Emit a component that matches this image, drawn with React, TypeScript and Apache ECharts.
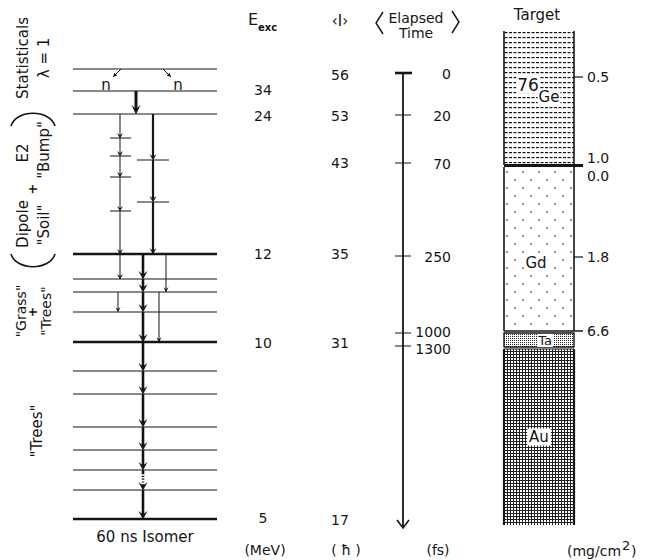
import React, { useEffect, useRef } from "react";
import * as echarts from "echarts";

// ---------------- data ----------------
// vertical position of each level on the diagram's scale (top = 0)
const levelPos = [69, 91, 114, 254, 279, 292, 312, 342, 371, 394, 427, 450, 470, 490, 519];
const thickLevelPos = [254, 342, 519];
// short sub-levels in the quasi-continuum
const dipoleSubLevels = [138, 156, 177, 211];
const e2SubLevels = [160, 202];
// gamma cascades: the levels each chain passes through
const bumpChain = [91, 114];
const dipoleChain = [114, 138, 156, 177, 211, 254, 279];
const e2Chain = [114, 160, 202, 254];
const yrastChain = [254, 279, 292, 312, 342, 371, 394, 427, 450, 470, 490, 519];
const grassChainA = [254, 292];
const grassChainB = [292, 312];
const grassChainC = [292, 342];
const neutronDir = [-1, 1];

const excLabels = ["34", "24", "12", "10", "5"];
const excPos = [90, 116, 254, 343, 518];
const spinLabels = ["56", "53", "43", "35", "31", "17"];
const spinPos = [75, 116, 163, 254, 343, 520];
const timeLabels = ["0", "20", "70", "250", "1000", "1300"];
const timePos = [73, 115, 163, 256, 333, 346];
const timeEnd = 528;

const layerNames = ["Ge", "Gd", "Ta", "Au"];
const layerTop = [31, 167, 333, 349];
const layerBottom = [165, 331, 347, 525];
const thicknessLabels = ["0.5", "1.0", "0.0", "1.8", "6.6"];
const thicknessPos = [77, 158, 176, 257, 331];
const thicknessTick = [true, false, false, true, false];

// ---------------- layout ----------------
const FONT = '"DejaVu Sans", "Liberation Sans", Arial, sans-serif';
const INK = "#151515";
const LEVEL_X0 = 73;
const LEVEL_X1 = 217;
const LANE_BUMP = 136;
const LANE_DIPOLE = 120;
const LANE_E2 = 153;
const LANE_YRAST = 143;
const LANE_GA = 166;
const LANE_GB = 118;
const LANE_GC = 159;
const DIPOLE_SUB_X = [110, 131];
const E2_SUB_X = [137, 169];
const EXC_X = 263;
const SPIN_X = 340;
const TIME_X = 403;
const TIME_LABEL_X = 451;
const TIME_LABEL_NUDGE = [1, 1, 1, 1, -1, 3];
const TGT_X0 = 504;
const TGT_X1 = 574;
const TGT_EXT = 583;
const TGT_LABEL_X = 587;
const COL1 = 23;
const COL2 = 44;
const COLM = 33;

const font = (size: number, weight = "normal") => `${weight} ${size}px ${FONT}`;

function svgTile(w: number, h: number, body: string) {
  return (
    "data:image/svg+xml;charset=utf-8," +
    encodeURIComponent(
      `<svg xmlns="http://www.w3.org/2000/svg" width="${w}" height="${h}" viewBox="0 0 ${w} ${h}">${body}</svg>`
    )
  );
}

const layerPatterns = [
  {
    image: svgTile(9, 5, `<rect x="0.5" y="2" width="3" height="1.2" fill="#111"/><rect x="5" y="2" width="3" height="1.2" fill="#111"/>`),
    repeat: "repeat",
    imageWidth: 9,
    imageHeight: 5,
  },
  {
    image: svgTile(16, 16, `<circle cx="3" cy="4" r="0.8" fill="#111"/><circle cx="11" cy="12" r="0.8" fill="#111"/>`),
    repeat: "repeat",
    imageWidth: 16,
    imageHeight: 16,
  },
  {
    image: svgTile(2, 2, `<rect x="0" y="0" width="1" height="1" fill="#222"/>`),
    repeat: "repeat",
    imageWidth: 2,
    imageHeight: 2,
  },
  {
    image: svgTile(3, 3, `<rect x="0" y="0" width="3" height="3" fill="#222"/><rect x="1" y="1" width="2" height="2" fill="#fff"/>`),
    repeat: "repeat",
    imageWidth: 3,
    imageHeight: 3,
  },
];

function seg(x1: number, y1: number, x2: number, y2: number, lw: number, dash?: number[]) {
  return {
    type: "line",
    shape: { x1, y1, x2, y2 },
    style: { stroke: INK, lineWidth: lw, lineDash: dash, fill: null },
  };
}

function txt(x: number, y: number, text: string, size: number, opts: any = {}) {
  const align = opts.align || "center";
  const va = opts.va || "middle";
  return {
    type: "text",
    x,
    y,
    rotation: opts.rot || 0,
    z: 20,
    style: {
      text,
      fill: INK,
      font: font(size, opts.weight || "normal"),
      align,
      verticalAlign: va,
      textAlign: align,
      textVerticalAlign: va,
      backgroundColor: opts.bg,
      padding: opts.pad,
    },
  };
}

function chainSeries(chain: number[], laneX: number, lw: number, hw: number, hh: number, dottedFrom?: number) {
  const data = chain.slice(1).map((to, i) => [laneX, chain[i], to]);
  return {
    type: "custom",
    coordinateSystem: "cartesian2d",
    encode: { x: 0, y: [1, 2] },
    data,
    renderItem: (_p: any, api: any) => {
      const x = api.value(0);
      const y0 = api.value(1);
      const y1 = api.value(2);
      const a = api.coord([x, y0]);
      const b = api.coord([x, y1]);
      const children: any[] = [];
      const lineEnd = b[1] - hh * 0.5;
      if (dottedFrom !== undefined && y0 === dottedFrom) {
        const d0 = api.coord([x, y0 + 3])[1];
        const d1 = api.coord([x, y1 - 5])[1];
        children.push(seg(a[0], a[1], a[0], d0, lw));
        children.push(seg(a[0], d0, a[0], d1, lw, [1.2, 1.6]));
        children.push(seg(a[0], d1, a[0], lineEnd, lw));
      } else {
        children.push(seg(a[0], a[1], a[0], lineEnd, lw));
      }
      children.push({
        type: "polygon",
        shape: {
          points: [
            [b[0], b[1] + 0.5],
            [b[0] - hw / 2, b[1] - hh],
            [b[0], b[1] - hh * 0.55],
            [b[0] + hw / 2, b[1] - hh],
          ],
        },
        style: { fill: INK },
      });
      return { type: "group", children };
    },
  };
}

function buildOption() {
  const series: any[] = [];

  // levels
  series.push({
    type: "custom",
    coordinateSystem: "cartesian2d",
    data: levelPos.map((y) => [LEVEL_X0, y]),
    renderItem: (_p: any, api: any) => {
      const y = api.value(1);
      const a = api.coord([LEVEL_X0, y]);
      const b = api.coord([LEVEL_X1, y]);
      const thick = thickLevelPos.indexOf(y) >= 0;
      return seg(a[0], a[1], b[0], b[1], thick ? 2.6 : 1.2);
    },
  });

  // sub-levels
  const subData = [
    ...dipoleSubLevels.map((y) => [DIPOLE_SUB_X[0], y, DIPOLE_SUB_X[1]]),
    ...e2SubLevels.map((y) => [E2_SUB_X[0], y, E2_SUB_X[1]]),
  ];
  series.push({
    type: "custom",
    coordinateSystem: "cartesian2d",
    encode: { x: [0, 2], y: 1 },
    data: subData,
    renderItem: (_p: any, api: any) => {
      const a = api.coord([api.value(0), api.value(1)]);
      const b = api.coord([api.value(2), api.value(1)]);
      return seg(a[0], a[1], b[0], b[1], 1);
    },
  });

  // cascades
  series.push(chainSeries(bumpChain, LANE_BUMP, 3, 9, 9));
  series.push(chainSeries(dipoleChain, LANE_DIPOLE, 1, 6, 5));
  series.push(chainSeries(e2Chain, LANE_E2, 2.2, 7, 6));
  series.push(chainSeries(yrastChain, LANE_YRAST, 2.6, 9, 8, 470));
  series.push(chainSeries(grassChainA, LANE_GA, 1, 5, 5));
  series.push(chainSeries(grassChainB, LANE_GB, 1, 5, 5));
  series.push(chainSeries(grassChainC, LANE_GC, 1, 5, 5));

  // neutron emission
  series.push({
    type: "custom",
    coordinateSystem: "cartesian2d",
    data: neutronDir.map((d) => [LANE_YRAST - 1 + d * 21, levelPos[0]]),
    renderItem: (p: any, api: any) => {
      const dir = neutronDir[p.dataIndex];
      const s = api.coord([api.value(0), api.value(1)]);
      const e = api.coord([api.value(0) + dir * 8, api.value(1) + 8]);
      const ux = dir * 0.707, uy = 0.707;
      const px = -uy, py = ux;
      const bx = e[0] - ux * 4, by = e[1] - uy * 4;
      const n = api.coord([LANE_YRAST - 1 + dir * 36, levelPos[0] + 16]);
      return {
        type: "group",
        children: [
          seg(s[0], s[1], e[0], e[1], 1),
          {
            type: "polygon",
            shape: { points: [[e[0], e[1]], [bx + px * 2, by + py * 2], [bx - px * 2, by - py * 2]] },
            style: { fill: INK },
          },
          txt(n[0], n[1], "n", 15),
        ],
      };
    },
  });

  // excitation energy labels
  series.push({
    type: "custom",
    coordinateSystem: "cartesian2d",
    data: excPos.map((y) => [EXC_X, y]),
    renderItem: (p: any, api: any) => {
      const c = api.coord([api.value(0), api.value(1)]);
      return txt(c[0], c[1], excLabels[p.dataIndex], 14);
    },
  });
  // spin labels
  series.push({
    type: "custom",
    coordinateSystem: "cartesian2d",
    data: spinPos.map((y) => [SPIN_X, y]),
    renderItem: (p: any, api: any) => {
      const c = api.coord([api.value(0), api.value(1)]);
      return txt(c[0], c[1], spinLabels[p.dataIndex], 14);
    },
  });

  // elapsed time axis spine
  series.push({
    type: "custom",
    coordinateSystem: "cartesian2d",
    encode: { x: 0, y: [1, 2] },
    data: [[TIME_X, timePos[0], timeEnd]],
    renderItem: (_p: any, api: any) => {
      const a = api.coord([api.value(0), api.value(1)]);
      const b = api.coord([api.value(0), api.value(2)]);
      return {
        type: "group",
        children: [
          seg(a[0], a[1], b[0], b[1] - 0.5, 1.8),
          {
            type: "polyline",
            shape: { points: [[b[0] - 6, b[1] - 8], [b[0], b[1]], [b[0] + 6, b[1] - 8]] },
            style: { stroke: INK, lineWidth: 1.6, fill: null },
          },
        ],
      };
    },
  });
  // elapsed time ticks + labels
  series.push({
    type: "custom",
    coordinateSystem: "cartesian2d",
    data: timePos.map((y) => [TIME_X, y]),
    renderItem: (p: any, api: any) => {
      const i = p.dataIndex;
      const c = api.coord([api.value(0), api.value(1)]);
      const l = api.coord([TIME_LABEL_X, api.value(1)]);
      return {
        type: "group",
        children: [
          i === 0 ? seg(c[0] - 8, c[1], c[0] + 9, c[1], 2.6) : seg(c[0] - 8, c[1], c[0] + 8, c[1], 1),
          txt(l[0], l[1] + TIME_LABEL_NUDGE[i], timeLabels[i], 14, { align: "right" }),
        ],
      };
    },
  });

  // target layers
  series.push({
    type: "custom",
    coordinateSystem: "cartesian2d",
    encode: { x: 0, y: [1, 2] },
    data: layerTop.map((t, i) => [TGT_X0, t, layerBottom[i]]),
    renderItem: (p: any, api: any) => {
      const i = p.dataIndex;
      const a = api.coord([TGT_X0, api.value(1)]);
      const b = api.coord([TGT_X1, api.value(2)]);
      const ext = api.coord([TGT_EXT, api.value(2)])[0];
      const x0 = a[0], x1 = b[0], y0 = a[1], y1 = b[1];
      const cx = (x0 + x1) / 2;
      const children: any[] = [
        {
          type: "rect",
          shape: { x: x0, y: y0, width: x1 - x0, height: y1 - y0 },
          style: { fill: layerPatterns[i], stroke: null },
        },
      ];
      if (i === 0) {
        children.push(seg(x0, y0, x0, y1, 1.6), seg(x1, y0, x1, y1, 1.6));
        children.push(seg(x0, y1 + 0.5, ext, y1 + 0.5, 3));
        children.push(txt(cx - 11, y0 + 54, "76", 17, { bg: "#fff", pad: [0, 1] }));
        children.push(txt(cx + 10, y0 + 66, "Ge", 15, { bg: "#fff", pad: [0, 1] }));
      } else if (i === 1) {
        children.push(seg(x0, y0, x0, y1, 1.6), seg(x1, y0, x1, y1, 1.6));
        children.push(seg(x0, y1, ext, y1, 1.4));
        children.push(txt(cx - 3, y0 + 96, layerNames[i], 15, { bg: "#fff", pad: [0, 1] }));
      } else if (i === 2) {
        children.push({
          type: "rect",
          shape: { x: x0, y: y0, width: x1 - x0, height: y1 - y0 },
          style: { fill: null, stroke: INK, lineWidth: 1.4 },
        });
        children.push(txt(cx + 6, (y0 + y1) / 2 + 0.5, layerNames[i], 13, { bg: "#fff", pad: [0, 1] }));
      } else {
        children.push(seg(x0, y0, x1, y0, 1.2));
        children.push(seg(x0, y0, x0, y1, 2.2), seg(x1, y0, x1, y1, 2.2));
        children.push(txt(cx, (y0 + y1) / 2, layerNames[i], 15, { bg: "#fff", pad: [1, 2] }));
      }
      return { type: "group", children };
    },
  });

  // target thickness labels
  series.push({
    type: "custom",
    coordinateSystem: "cartesian2d",
    data: thicknessPos.map((y) => [TGT_LABEL_X, y]),
    renderItem: (p: any, api: any) => {
      const i = p.dataIndex;
      const c = api.coord([api.value(0), api.value(1)]);
      const children: any[] = [txt(c[0], c[1], thicknessLabels[i], 14, { align: "left" })];
      if (thicknessTick[i]) {
        const t0 = api.coord([TGT_X1, api.value(1)]);
        const t1 = api.coord([TGT_EXT, api.value(1)]);
        children.push(seg(t0[0], t0[1], t1[0], t1[1], 1.2));
      }
      return { type: "group", children };
    },
  });

  // ---- static texts ----
  const rot = Math.PI / 2;
  const bracketStyle = { stroke: INK, lineWidth: 1.6, fill: null };
  const graphic: any[] = [
    txt(COL1, 58, "Statisticals", 15, { rot }),
    txt(COL2, 58, "λ = 1", 15, { rot }),
    {
      type: "bezierCurve",
      shape: { x1: 11, y1: 126, cpx1: 16, cpy1: 109, cpx2: 50, cpy2: 109, x2: 55, y2: 126 },
      style: bracketStyle,
    },
    {
      type: "bezierCurve",
      shape: { x1: 11, y1: 254, cpx1: 16, cpy1: 271, cpx2: 50, cpy2: 271, x2: 55, y2: 254 },
      style: bracketStyle,
    },
    txt(COL1, 224, "Dipole", 15, { rot }),
    txt(COL1, 153, "E2", 15, { rot }),
    txt(COLM - 1, 189, "+", 13, { rot, weight: "bold" }),
    txt(COL2, 225, '"Soil"', 15, { rot }),
    txt(COL2, 150, '"Bump"', 15, { rot }),
    txt(COL1 - 2, 311, '"Grass"', 14, { rot }),
    txt(COLM, 312, "+", 12, { rot, weight: "bold" }),
    txt(COL2 + 2, 311, '"Trees"', 14, { rot }),
    txt(COLM + 4, 431, '"Trees"', 15, { rot }),
    txt(145, 537, "60 ns Isomer", 15),

    txt(248, 19, "E", 16, { align: "left" }),
    txt(258, 27, "exc", 10, { align: "left", weight: "bold" }),
    txt(340, 21, "‹I›", 15),
    txt(416, 18, "Elapsed", 14),
    txt(416, 33, "Time", 14),
    {
      type: "polyline",
      shape: { points: [[383, 12], [376, 23], [383, 34]] },
      style: { stroke: INK, lineWidth: 1.4, fill: null },
    },
    {
      type: "polyline",
      shape: { points: [[452, 11], [459, 22], [452, 33]] },
      style: { stroke: INK, lineWidth: 1.4, fill: null },
    },
    txt(537, 15, "Target", 15),

    txt(265, 550, "(MeV)", 14),
    txt(346, 550, "( ħ )", 14),
    txt(438, 550, "(fs)", 14),
    txt(567, 551, "(mg/cm", 14, { align: "left" }),
    txt(622, 545, "2", 13, { align: "left" }),
    txt(631, 551, ")", 14, { align: "left" }),
  ];

  return {
    animation: false,
    backgroundColor: "#ffffff",
    grid: { left: 0, right: 0, top: 0, bottom: 0, containLabel: false },
    xAxis: { type: "value", min: 0, max: 656, show: false },
    yAxis: { type: "value", min: 0, max: 560, inverse: true, show: false },
    tooltip: { show: false },
    series: series.map((s) => ({ ...s, silent: true, clip: false })),
    graphic,
  };
}

export default function App() {
  const ref = useRef<HTMLDivElement>(null);
  useEffect(() => {
    document.body.style.margin = "0";
    if (!ref.current) return;
    const chart = echarts.init(ref.current, undefined, { renderer: "svg" });
    chart.setOption(buildOption() as any);
    return () => chart.dispose();
  }, []);
  return <div ref={ref} style={{ width: 656, height: 560, background: "#fff" }} />;
}
